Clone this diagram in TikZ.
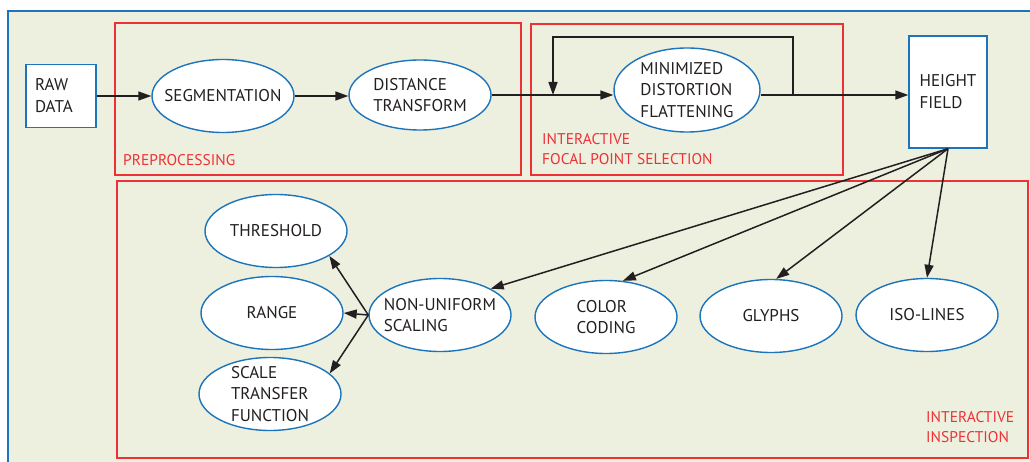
\documentclass[tikz,border=0pt]{standalone}
\usepackage{fontspec}
\setmainfont{PT Sans}
\usetikzlibrary{shapes.geometric,arrows.meta}
\definecolor{frameblue}{HTML}{1C75BC}
\definecolor{stagered}{HTML}{EC3237}
\definecolor{paneltan}{HTML}{EEF0DF}
\definecolor{inkblack}{HTML}{231F20}
\tikzset{
    step-ellipse/.style = {draw=frameblue, fill=white, line width=1.4pt, ellipse, minimum width=142pt, minimum height=73pt, inner sep=-15pt, align=left, text=inkblack, font=\fontsize{17}{21.5}\selectfont},
    data-box/.style = {draw=frameblue, fill=white, line width=1.4pt, rectangle, inner sep=0pt, align=left, text=inkblack, font=\fontsize{17}{22}\selectfont},
    stage-frame/.style = {draw=stagered, line width=1.3pt},
    stage-title/.style = {text=stagered, anchor=north west, inner sep=0pt, align=left, font=\fontsize{15.5}{20}\selectfont},
    flow-arrow/.style = {draw=inkblack, line width=1.5pt, -{Triangle[length=13pt,width=9pt]}},
}

\begin{document}
\begin{tikzpicture}[x=1pt,y=-1pt]
\useasboundingbox (0,0) rectangle (1030,462);
\fill[white] (0,0) rectangle (1030,462);
\draw[frameblue, fill=paneltan, line width=1.4pt] (8,11) rectangle (1045,475);
\draw[stage-frame] (115,23) rectangle (521,175);
\draw[stage-frame] (531,24) rectangle (843,175);
\draw[stage-frame] (117,181) rectangle (1028,458);
\node[stage-title] (pre) at (123,154) {PREPROCESSING};
\node[stage-title] (fps) at (542,133) {INTERACTIVE\\FOCAL POINT SELECTION};
\node[stage-title] (ins) at (926,411) {INTERACTIVE\\INSPECTION};

\node[data-box, minimum width=70pt, minimum height=63pt, text width=52pt] (raw) at (61,96) {RAW\\DATA};
\node[step-ellipse] (seg) at (223,96) {SEGMENTATION};
\node[step-ellipse, minimum height=70pt] (dist) at (420,95) {DISTANCE\\TRANSFORM};
\node[step-ellipse, minimum width=146pt, minimum height=84pt] (mdf) at (687,90) {MINIMIZED\\DISTORTION\\FLATTENING};
\node[data-box, minimum width=78pt, minimum height=112pt] (hf) at (948,92) {HEIGHT\\FIELD};

\node[step-ellipse] (thr) at (276,231) {THRESHOLD};
\node[step-ellipse] (rng) at (272,313) {RANGE};
\node[step-ellipse] (stf) at (270,394) {SCALE\\TRANSFER\\FUNCTION};
\node[step-ellipse] (nus) at (440,315) {NON-UNIFORM\\SCALING};
\node[step-ellipse] (cc) at (606,317) {COLOR\\CODING};
\node[step-ellipse] (gly) at (771,316) {GLYPHS};
\node[step-ellipse] (iso) at (927,315) {ISO-LINES};

\coordinate (join) at (553,95);
\coordinate (loop) at (793,95);
\draw[flow-arrow] (raw) -- (seg);
\draw[flow-arrow] (seg) -- (dist.west |- seg);
\draw[flow-arrow] (dist.east) -- (mdf.west |- dist.east);
\draw[flow-arrow] (mdf.east |- loop) -- (hf.west |- loop);
\draw[flow-arrow] (loop) -- ++(0,-58) -| (join);

\draw[flow-arrow] (hf.south) -- (nus.north east);
\draw[flow-arrow] (hf.south) -- (cc.65);
\draw[flow-arrow] (hf.south) -- (gly.82);
\draw[flow-arrow] (hf.south) -- (iso.north);

\draw[flow-arrow] (nus.west) -- (thr.-25);
\draw[flow-arrow] (nus.west) -- (rng.east);
\draw[flow-arrow] (nus.west) -- (stf.19);
\end{tikzpicture}
\end{document}
